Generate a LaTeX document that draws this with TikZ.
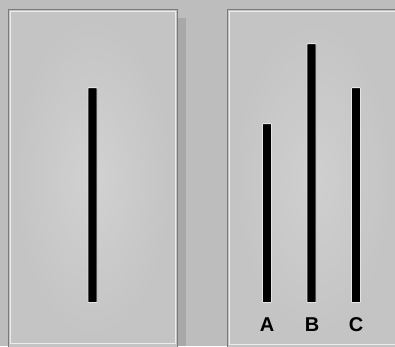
\documentclass[tikz,border=0pt]{standalone}
\usepackage{fontspec}
\setsansfont{Liberation Sans}
\begin{document}
\begin{tikzpicture}[x=1pt,y=-1pt,
  panelbox/.style={fill=panelgray, draw=edgegray, line width=0.8pt},
  panelhi/.style={draw=white!85!gray, line width=0.9pt},
  bar/.style={fill=black, draw=white!80!gray, line width=0.8pt, rounded corners=0.6pt},
  lbl/.style={font=\sffamily\bfseries\fontsize{20}{20}\selectfont, text=black, inner sep=0pt}]
\definecolor{bggray}{HTML}{BDBDBD}
\definecolor{panelgray}{HTML}{C4C4C4}
\definecolor{edgegray}{HTML}{7A7A7A}
\definecolor{shadowgray}{HTML}{A8A8A8}
\useasboundingbox (0,0) rectangle (395,346);
\fill[bggray] (0,0) rectangle (395,346);
% shadow of left card
\fill[shadowgray] (178,18) rectangle (186,346);
% left card
\draw[panelbox] (8,9) rectangle (177,350);
\draw[panelhi] (10.5,11.5) rectangle (175,343.5);
\shade[inner color=white!85!gray, outer color=panelgray, opacity=0.35] (12,13) rectangle (173,342);
% right card
\draw[panelbox] (227,9) rectangle (400,350);
\draw[panelhi] (229.5,11.5) rectangle (398,344);
\shade[inner color=white!85!gray, outer color=panelgray, opacity=0.3] (231,13) rectangle (396,342);
% bars
\node[bar, minimum width=9pt, minimum height=215pt, inner sep=0pt, anchor=south] (ref) at (92.5,303) {};
\node[bar, minimum width=9pt, minimum height=179pt, inner sep=0pt, anchor=south] (barA) at (267,303) {};
\node[bar, minimum width=9pt, minimum height=259pt, inner sep=0pt, anchor=south] (barB) at (311.5,303) {};
\node[bar, minimum width=9pt, minimum height=215pt, inner sep=0pt, anchor=south] (barC) at (356,303) {};
% labels
\node[lbl] (labA) at (267,325) {A};
\node[lbl] (labB) at (312,325) {B};
\node[lbl] (labC) at (356,325) {C};
\end{tikzpicture}
\end{document}
